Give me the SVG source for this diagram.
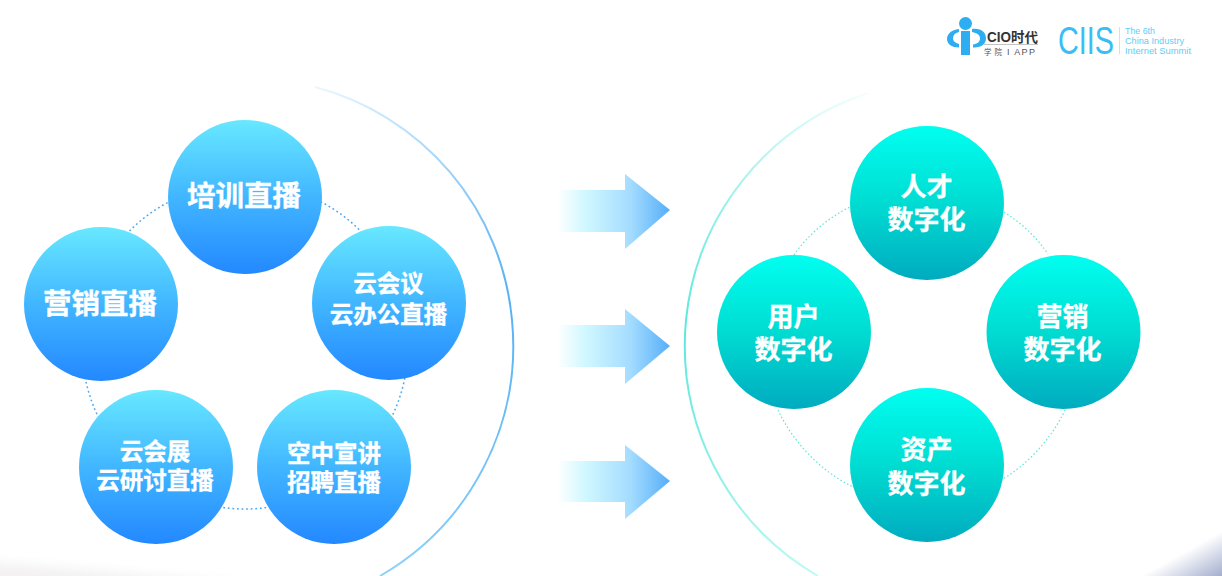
<svg xmlns="http://www.w3.org/2000/svg" width="1222" height="576" viewBox="0 0 1222 576">
<defs>
<linearGradient id="blue" x1="0" y1="0" x2="0" y2="1"><stop offset="0" stop-color="#68e8ff"/><stop offset="0.5" stop-color="#41b6ff"/><stop offset="1" stop-color="#2388ff"/></linearGradient>
<linearGradient id="teal" x1="0" y1="0" x2="0" y2="1"><stop offset="0" stop-color="#00fff0"/><stop offset="0.5" stop-color="#00dcd2"/><stop offset="1" stop-color="#00abbf"/></linearGradient>
<linearGradient id="arrow" x1="0" y1="0" x2="1" y2="0"><stop offset="0" stop-color="#ffffff"/><stop offset="0.25" stop-color="#d0f8ff"/><stop offset="0.65" stop-color="#a4dcff"/><stop offset="1" stop-color="#55aef8"/></linearGradient>
<linearGradient id="arcL" gradientUnits="userSpaceOnUse" x1="310" y1="85" x2="500" y2="300"><stop offset="0" stop-color="#eef8ff"/><stop offset="1" stop-color="#55b2f6"/></linearGradient>
<linearGradient id="arcL2" gradientUnits="userSpaceOnUse" x1="514" y1="300" x2="380" y2="576"><stop offset="0" stop-color="#55b2f6"/><stop offset="1" stop-color="#8fd2fb"/></linearGradient>
<linearGradient id="arcR" gradientUnits="userSpaceOnUse" x1="870" y1="92" x2="690" y2="320"><stop offset="0" stop-color="#f4fffd"/><stop offset="1" stop-color="#5fe8de"/></linearGradient>
<linearGradient id="arcR2" gradientUnits="userSpaceOnUse" x1="686" y1="340" x2="818" y2="576"><stop offset="0" stop-color="#5fe8de"/><stop offset="1" stop-color="#c0faf4"/></linearGradient>
<linearGradient id="shadeR" gradientUnits="userSpaceOnUse" x1="1190" y1="540" x2="1215" y2="585"><stop offset="0.15" stop-color="#ffffff"/><stop offset="1" stop-color="#99a5c9"/></linearGradient>
<filter id="soft" x="-10%" y="-100%" width="120%" height="300%"><feGaussianBlur stdDeviation="6"/></filter>
</defs>
<style>
.t{font-family:"Noto Sans CJK SC","Noto Sans",sans-serif;font-weight:700;fill:#fff;stroke:#fff;stroke-width:.35;text-anchor:middle}
.c{stroke:none}
.dl{fill:none;stroke:#4aa8f0;stroke-width:1.5;stroke-dasharray:1.8 2.8}
.dr{fill:none;stroke:#55e8dc;stroke-width:1.2;stroke-dasharray:1.5 2.3}
.ar{fill:url(#arrow)}
.lg{font-family:"Liberation Sans",sans-serif;fill:#62cdf5}
</style>
<rect width="1222" height="576" fill="#fff"/>
<path d="M-20 562Q150 574 340 594L-20 594Z" fill="#f3f1f1" filter="url(#soft)"/>
<rect x="1040" y="530" width="182" height="46" fill="url(#shadeR)"/>
<g id="connectors">
<circle class="dl" cx="245" cy="346" r="163"/>
<path class="dr" d="M794 255A150 150 0 0 1 850 207"/>
<path class="dr" d="M1004 212A150 150 0 0 1 1048 254"/>
<path class="dr" d="M778 410A165 165 0 0 0 853 487"/>
<path class="dr" d="M1065 410A165 165 0 0 1 1003 479"/>
<path d="M315 87A266 266 0 0 1 512 320" fill="none" stroke="url(#arcL)" stroke-width="2"/>
<path d="M512 320A266 266 0 0 1 380 576" fill="none" stroke="url(#arcL2)" stroke-width="2"/>
<path d="M868 93A267 267 0 0 0 686 320" fill="none" stroke="url(#arcR)" stroke-width="2"/>
<path d="M686 320A267 267 0 0 0 818 576" fill="none" stroke="url(#arcR2)" stroke-width="2"/>
</g>
<g id="arrow-1"><path class="ar" d="M557 190H625V174L670 210L625 249V232H557Z"/></g>
<g id="arrow-2"><path class="ar" d="M557 325H625V309L670 346L625 384V367H557Z"/></g>
<g id="arrow-3"><path class="ar" d="M557 461H625V445L670 481L625 519V502H557Z"/></g>
<g id="n-peixun"><circle class="c" cx="245" cy="197" r="77" fill="url(#blue)"/><text class="t" x="244" y="206" font-size="28.500">培训直播</text></g>
<g id="n-yingxiao"><circle class="c" cx="101" cy="304" r="77" fill="url(#blue)"/><text class="t" x="100" y="314" font-size="28.500">营销直播</text></g>
<g id="n-yunhuiyi"><circle class="c" cx="389" cy="303" r="77" fill="url(#blue)"/><text class="t" x="388.500" y="292" font-size="23.500">云会议</text><text class="t" x="388.500" y="323" font-size="23.500">云办公直播</text></g>
<g id="n-yunhuizhan"><circle class="c" cx="156" cy="467" r="77" fill="url(#blue)"/><text class="t" x="155" y="460" font-size="23.500">云会展</text><text class="t" x="155" y="489" font-size="23.500">云研讨直播</text></g>
<g id="n-kongzhong"><circle class="c" cx="334" cy="467" r="77" fill="url(#blue)"/><text class="t" x="334" y="462" font-size="23.500">空中宣讲</text><text class="t" x="334" y="491" font-size="23.500">招聘直播</text></g>
<g id="n-rencai"><circle class="c" cx="927" cy="203" r="77" fill="url(#teal)"/><text class="t" x="926.500" y="196" font-size="26">人才</text><text class="t" x="926.500" y="229" font-size="26">数字化</text></g>
<g id="n-yonghu"><circle class="c" cx="794" cy="332" r="77" fill="url(#teal)"/><text class="t" x="793.500" y="326" font-size="26">用户</text><text class="t" x="793.500" y="359" font-size="26">数字化</text></g>
<g id="n-yingxiao2"><circle class="c" cx="1063.500" cy="332" r="77" fill="url(#teal)"/><text class="t" x="1062.500" y="326" font-size="26">营销</text><text class="t" x="1062.500" y="359" font-size="26">数字化</text></g>
<g id="n-zichan"><circle class="c" cx="927" cy="465" r="77" fill="url(#teal)"/><text class="t" x="926.500" y="459" font-size="26">资产</text><text class="t" x="926.500" y="493" font-size="26">数字化</text></g>
<g id="logo-cio">
<circle cx="965.500" cy="23.500" r="6.500" fill="#2eaef0"/>
<path d="M961 31H970V55H961Z" fill="#2eaef0"/>
<path d="M959 29C951 30 947 34 947 39C947 44 952 47.500 959 47.500V44C955 43 953 41 953 38.500C953 35 955 33 959 32Z" fill="#2eaef0"/>
<path d="M972 29C981 28 986 32 986 38.500C986 44 981 48 973 47.500V44.500C977 44 980 42 980 38.500C980 34.500 977 33 972 32Z" fill="#2eaef0"/>
<text x="987" y="42" font-family="Liberation Sans,Noto Sans CJK SC,sans-serif" font-weight="700" font-size="14" fill="#333" textLength="51" lengthAdjust="spacingAndGlyphs">CIO时代</text>
<path d="M984 44.500H1038" stroke="#aaa" stroke-width=".7"/>
<text x="984" y="54.500" font-family="Noto Sans CJK SC,sans-serif" font-size="7.500" fill="#555" textLength="18">学 院</text>
<text x="1007" y="54.500" font-family="Liberation Sans,sans-serif" font-size="9" fill="#555" textLength="28">I APP</text>
</g>
<g id="logo-ciis">
<text x="1058" y="54" font-family="Liberation Sans,sans-serif" font-size="39" fill="#38bdf4" textLength="56" lengthAdjust="spacingAndGlyphs">CIIS</text>
<path d="M1119.500 27V54" stroke="#a5e4fa" stroke-width=".8"/>
<text class="lg" x="1125" y="33.500" font-size="9" textLength="30" lengthAdjust="spacingAndGlyphs">The 6th</text>
<text class="lg" x="1125" y="44" font-size="9" textLength="59" lengthAdjust="spacingAndGlyphs">China Industry</text>
<text class="lg" x="1125" y="53.500" font-size="9" textLength="66" lengthAdjust="spacingAndGlyphs">Internet Summit</text>
</g>
</svg>
